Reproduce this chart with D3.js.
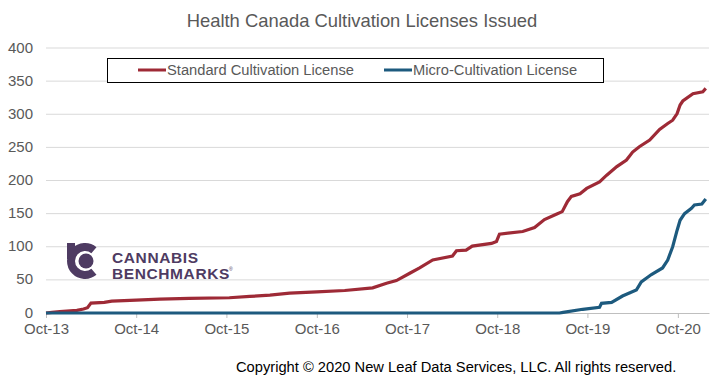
<!DOCTYPE html>
<html>
<head>
<meta charset="utf-8">
<script src="https://cdn.jsdelivr.net/npm/d3@7"></script>
<style>
  body { margin: 0; background: #fff; }
  text { font-family: "Liberation Sans", Arial, sans-serif; }
</style>
</head>
<body>
<svg width="721" height="380"></svg>
<script>
// standard cultivation licences (cumulative)
const standardDates = ['2013-10-01','2013-10-25','2013-11-26','2014-02-03','2014-03-02','2014-03-18','2014-04-01',
  '2014-05-25','2014-06-24','2014-10-01','2015-01-05','2015-05-04','2015-10-13','2016-01-04','2016-03-25',
  '2016-06-13','2016-10-01','2017-01-22','2017-05-15','2017-07-10','2017-08-19','2017-10-12','2017-11-21',
  '2018-01-13','2018-04-03','2018-04-19','2018-05-28','2018-06-22','2018-09-08','2018-09-28','2018-10-10',
  '2019-01-12','2019-03-01','2019-04-10','2019-05-28','2019-06-21','2019-07-12','2019-07-28','2019-09-01',
  '2019-09-28','2019-11-19','2019-12-18','2020-01-28','2020-03-07','2020-04-01','2020-04-28','2020-06-09',
  '2020-07-19','2020-08-21','2020-09-10','2020-09-28','2020-10-10','2020-10-21','2020-12-01','2021-01-10','2021-01-22'];
const standardValues = [0,1,2,4,6,8,15,
  16,18,19.5,21,22,23,25,27,
  30,32,34,38,45,49,60,68,
  80,86,94,95,101,105,108,119,
  123,129,141,149,153,168,176,180,
  188,198,208,221,231,243,251,261,
  277,286,291,301,314,320,331,334,339];

const microDates = ['2013-10-01','2019-06-10','2019-06-25','2019-09-12','2019-11-19','2019-11-27','2020-01-07',
  '2020-02-20','2020-04-16','2020-05-06','2020-06-16','2020-07-31','2020-08-21','2020-09-10','2020-09-28',
  '2020-10-10','2020-10-28','2020-11-25','2020-12-07','2021-01-06','2021-01-22'];
const microValues = [0,0,1,5.6,8.6,14.6,16,
  25.6,34.7,47,58,68,80,100,125,
  140,150,158,163,164.5,172];

const xTicks = ['2013-10-01','2014-10-01','2015-10-01','2016-10-01','2017-10-01','2018-10-01','2019-10-01','2020-10-01'];
const yTicks = [0, 50, 100, 150, 200, 250, 300, 350, 400];

const parse = d3.timeParse('%Y-%m-%d');
const svg = d3.select('svg');

const x = d3.scaleTime()
  .domain([parse('2013-10-01'), parse('2021-02-04')])
  .range([46, 709]);
const y = d3.scaleLinear().domain([0, 400]).range([313, 48]);

// title
svg.append('text').attr('x', 362).attr('y', 27).attr('text-anchor', 'middle')
  .style('font-size', '18.4px').style('fill', '#595959')
  .text('Health Canada Cultivation Licenses Issued');

// grid + y labels
svg.append('g').selectAll('line').data(yTicks.slice(1)).join('line')
  .attr('x1', 46).attr('x2', 709)
  .attr('y1', d => y(d)).attr('y2', d => y(d))
  .style('stroke', '#d9d9d9').style('stroke-width', 1);

svg.append('g').selectAll('text').data(yTicks).join('text')
  .attr('x', 33).attr('y', d => y(d) + 4.5).attr('text-anchor', 'end')
  .style('font-size', '15px').style('fill', '#595959')
  .text(d => d);

// x axis
const xAxis = d3.axisBottom(x)
  .tickValues(xTicks.map(parse))
  .tickFormat(d3.timeFormat('%b-%y'))
  .tickSize(5).tickSizeOuter(0);
const gx = svg.append('g').attr('transform', 'translate(0,313)').call(xAxis);
gx.select('.domain').style('stroke', '#bfbfbf');
gx.selectAll('.tick line').style('stroke', '#bfbfbf');
gx.selectAll('.tick text').attr('dy', null).attr('y', 21)
  .style('font-size', '15px').style('fill', '#595959')
  .style('font-family', '"Liberation Sans", Arial, sans-serif');

// logo
const logo = svg.append('g').style('fill', '#4e3b62');
logo.append('path').attr('transform', 'translate(85,261)')
  .attr('d', d3.arc().innerRadius(10).outerRadius(18).startAngle(0.78 * Math.PI).endAngle(2.22 * Math.PI));
logo.append('rect').attr('x', 67).attr('y', 243).attr('width', 8).attr('height', 16);
logo.append('circle').attr('cx', 86).attr('cy', 261).attr('r', 7.5);
logo.append('text').attr('x', 112).attr('y', 263).style('font-size', '15.5px').style('font-weight', 'bold')
  .style('letter-spacing', '0.6px').text('CANNABIS');
logo.append('text').attr('x', 112).attr('y', 279).style('font-size', '15.5px').style('font-weight', 'bold')
  .style('letter-spacing', '0.6px').text('BENCHMARKS');
logo.append('text').attr('x', 229).attr('y', 271).style('font-size', '5px').text('®');

// lines
const line = d3.line().x(d => x(d[0])).y(d => y(d[1]));
const standard = standardDates.map((d, i) => [parse(d), standardValues[i]]);
const micro = microDates.map((d, i) => [parse(d), microValues[i]]);

svg.append('path').datum(standard).attr('d', line)
  .style('fill', 'none').style('stroke', '#9e2a36').style('stroke-width', 3.2);
svg.append('path').datum(micro).attr('d', line)
  .style('fill', 'none').style('stroke', '#1d5a7e').style('stroke-width', 3.2);

// legend
const legend = svg.append('g');
legend.append('rect').attr('x', 107.5).attr('y', 58.5).attr('width', 496).attr('height', 24)
  .style('fill', '#fff').style('stroke', '#000').style('stroke-width', 1);
const items = [
  { name: 'Standard Cultivation License', color: '#9e2a36', x: 138 },
  { name: 'Micro-Cultivation License', color: '#1d5a7e', x: 384 }
];
items.forEach(it => {
  legend.append('line').attr('x1', it.x).attr('x2', it.x + 28).attr('y1', 70).attr('y2', 70)
    .style('stroke', it.color).style('stroke-width', 3);
  legend.append('text').attr('x', it.x + 29).attr('y', 75)
    .style('font-size', '14.7px').style('fill', '#595959').text(it.name);
});

// copyright
svg.append('text').attr('x', 236).attr('y', 372)
  .style('font-size', '14.7px').style('fill', '#000')
  .text('Copyright © 2020 New Leaf Data Services, LLC. All rights reserved.');
</script>
</body>
</html>
